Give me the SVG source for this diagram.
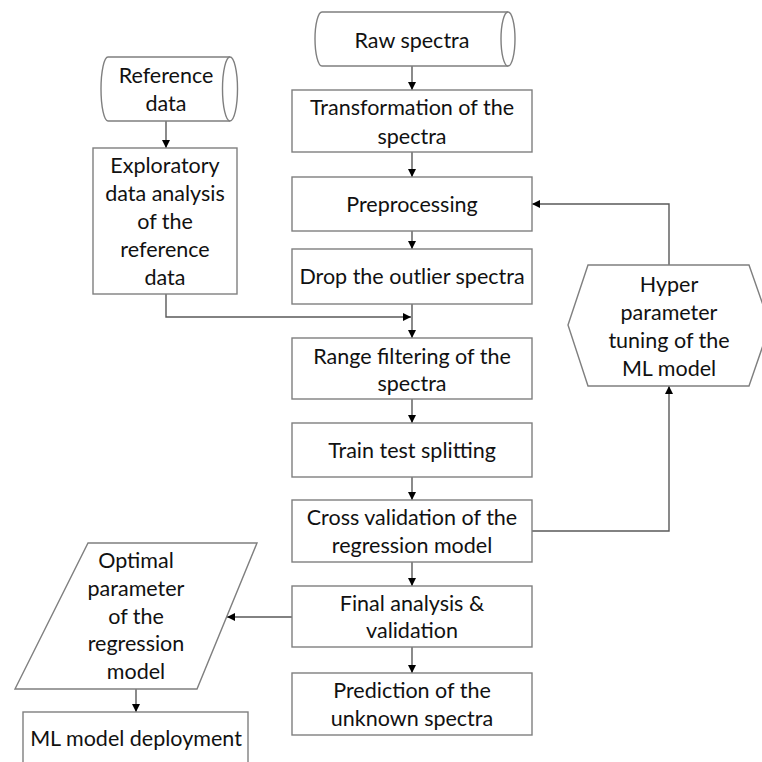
<svg xmlns="http://www.w3.org/2000/svg" width="762" height="762" viewBox="0 0 762 762">
<defs>
<marker id="arr" viewBox="0 0 10 10" refX="10" refY="5" markerWidth="8" markerHeight="8" markerUnits="userSpaceOnUse" orient="auto">
<path d="M0,0 L10,5 L0,10 Z" fill="#000"/>
</marker>
<style>
.shape{fill:#fff;stroke:#7f7f7f;stroke-width:1.4}
.line{fill:none;stroke:#595959;stroke-width:1.4}
text{font-family:Lato,"Liberation Sans",sans-serif;font-size:21.5px;fill:#111;text-anchor:middle}
</style>
</defs>
<rect width="762" height="762" fill="#fff"/>
<g id="connectors">
<path class="line" d="M412,66 V90" marker-end="url(#arr)"/>
<path class="line" d="M412,152 V177" marker-end="url(#arr)"/>
<path class="line" d="M412,231 V249" marker-end="url(#arr)"/>
<path class="line" d="M412,304 V338" marker-end="url(#arr)"/>
<path class="line" d="M166,121 V148" marker-end="url(#arr)"/>
<path class="line" d="M166,294 V317 H411" marker-end="url(#arr)"/>
<path class="line" d="M412,399 V423" marker-end="url(#arr)"/>
<path class="line" d="M412,477 V500" marker-end="url(#arr)"/>
<path class="line" d="M412,562 V586" marker-end="url(#arr)"/>
<path class="line" d="M412,647 V673" marker-end="url(#arr)"/>
<path class="line" d="M532,531 H669 V386" marker-end="url(#arr)"/>
<path class="line" d="M669,265 V204 H532" marker-end="url(#arr)"/>
<path class="line" d="M292,617 H227" marker-end="url(#arr)"/>
<path class="line" d="M136,689 V712" marker-end="url(#arr)"/>
</g>
<g id="raw-spectra">
<path class="shape" d="M322,12 H508 A7,27 0 0 1 508,66 H322 A7,27 0 0 1 322,12 Z"/>
<path class="shape" d="M508,12 A7,27 0 0 0 508,66"/>
<text x="412" y="47.5">Raw spectra</text>
</g>
<g id="transformation">
<rect class="shape" x="292" y="90" width="240" height="62"/>
<text x="412" y="114.5">Transformation of the</text>
<text x="412" y="143.5">spectra</text>
</g>
<g id="preprocessing">
<rect class="shape" x="292" y="177" width="240" height="54"/>
<text x="412" y="211.5">Preprocessing</text>
</g>
<g id="drop-outlier">
<rect class="shape" x="292" y="249" width="240" height="55"/>
<text x="412" y="283.5">Drop the outlier spectra</text>
</g>
<g id="range-filtering">
<rect class="shape" x="292" y="338" width="240" height="61"/>
<text x="412" y="363.5">Range filtering of the</text>
<text x="412" y="390.5">spectra</text>
</g>
<g id="train-test">
<rect class="shape" x="292" y="423" width="240" height="54"/>
<text x="412" y="457.5">Train test splitting</text>
</g>
<g id="cross-validation">
<rect class="shape" x="292" y="500" width="240" height="62"/>
<text x="412" y="524.5">Cross validation of the</text>
<text x="412" y="552.5">regression model</text>
</g>
<g id="final-analysis">
<rect class="shape" x="292" y="586" width="240" height="61"/>
<text x="412" y="610.5">Final analysis &amp;</text>
<text x="412" y="637.5">validation</text>
</g>
<g id="prediction">
<rect class="shape" x="292" y="673" width="240" height="62"/>
<text x="412" y="697.5">Prediction of the</text>
<text x="412" y="725.5">unknown spectra</text>
</g>
<g id="reference-data">
<path class="shape" d="M108,57 H230 A7.5,32 0 0 1 230,121 H108 A7,32 0 0 1 108,57 Z"/>
<path class="shape" d="M230,57 A7.5,32 0 0 0 230,121"/>
<text x="166" y="82.5">Reference</text>
<text x="166" y="110.5">data</text>
</g>
<g id="exploratory">
<rect class="shape" x="93" y="148" width="144" height="146"/>
<text x="165" y="172.5">Exploratory</text>
<text x="165" y="200.5">data analysis</text>
<text x="165" y="228.5">of the</text>
<text x="165" y="256.5">reference</text>
<text x="165" y="284.5">data</text>
</g>
<g id="hyper-parameter">
<path class="shape" d="M568,325 L588,265 H749 L770,325 L749,386 H588 Z"/>
<text x="669" y="291.5">Hyper</text>
<text x="669" y="319.5">parameter</text>
<text x="669" y="347.5">tuning of the</text>
<text x="669" y="375.5">ML model</text>
</g>
<g id="optimal-parameter">
<path class="shape" d="M88,543 H257 L197,689 H15 Z"/>
<text x="136" y="567.5">Optimal</text>
<text x="136" y="595.5">parameter</text>
<text x="136" y="623.5">of the</text>
<text x="136" y="650.5">regression</text>
<text x="136" y="678.5">model</text>
</g>
<g id="deployment">
<rect class="shape" x="23" y="712" width="225" height="70"/>
<text x="136" y="745.5">ML model deployment</text>
</g>
</svg>
